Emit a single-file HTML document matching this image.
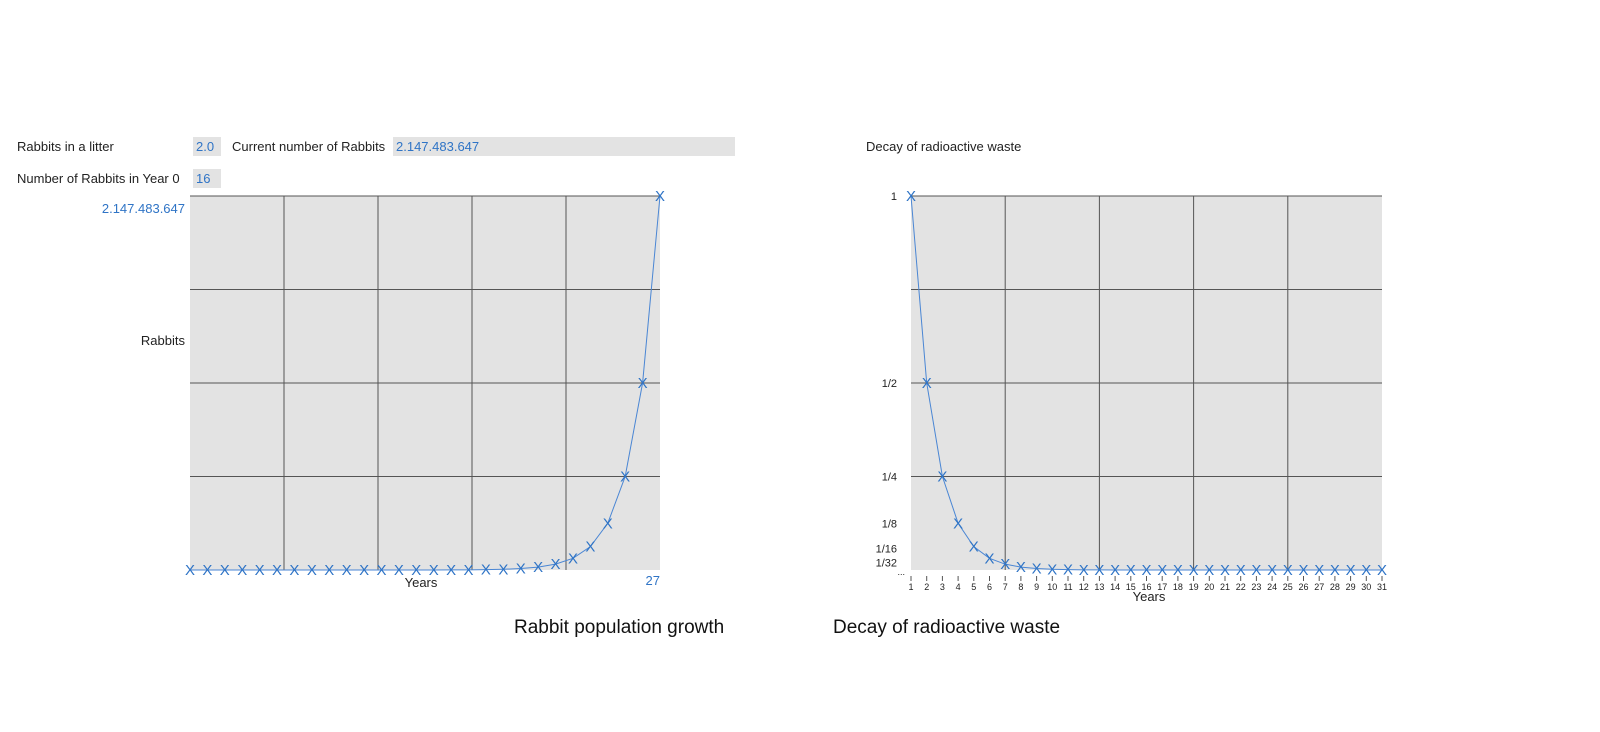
<!DOCTYPE html>
<html><head><meta charset="utf-8"><style>
body{margin:0;background:#fff;width:1600px;height:727px;overflow:hidden;font-family:"Liberation Sans",sans-serif;}
svg text{font-family:"Liberation Sans",sans-serif;}
</style></head><body>
<svg width="1600" height="727">
<g font-size="13">
<text x="17" y="151" fill="#222">Rabbits in a litter</text>
<rect x="193" y="137" width="28" height="19" fill="#e3e3e3"/>
<text x="196" y="151" fill="#2f74c6">2.0</text>
<text x="232" y="151" fill="#222">Current number of Rabbits</text>
<rect x="393" y="137" width="342" height="19" fill="#e3e3e3"/>
<text x="396" y="151" fill="#2f74c6">2.147.483.647</text>
<text x="17" y="183" fill="#222">Number of Rabbits in Year 0</text>
<rect x="193" y="169" width="28" height="19" fill="#e3e3e3"/>
<text x="196" y="183" fill="#2f74c6">16</text>
</g>
<g id="left"></g>
<g id="right"></g>
<text x="514" y="633" font-size="19" fill="#111">Rabbit population growth</text>
<text x="833" y="633" font-size="19" fill="#111">Decay of radioactive waste</text>
</svg>
<script>
const rabbitYears=[0,1,2,3,4,5,6,7,8,9,10,11,12,13,14,15,16,17,18,19,20,21,22,23,24,25,26,27];
const rabbitValues=[16,32,64,128,256,512,1024,2048,4096,8192,16384,32768,65536,131072,262144,524288,1048576,2097152,4194304,8388608,16777216,33554432,67108864,134217728,268435456,536870912,1073741824,2147483647];
const decayYears=[1,2,3,4,5,6,7,8,9,10,11,12,13,14,15,16,17,18,19,20,21,22,23,24,25,26,27,28,29,30,31];
const decayValues=[1,0.5,0.25,0.125,0.0625,0.03125,0.015625,0.0078125,0.00390625,0.001953125,0.0009765625,0.00048828125,0.000244140625,0.0001220703125,0.00006103515625,0.000030517578125,0.0000152587890625,0.00000762939453125,0.000003814697265625,0.0000019073486328125,0.00000095367431640625,0.000000476837158203125,0.0000002384185791015625,0.00000011920928955078125,0.000000059604644775390625,0.0000000298023223876953125,0.00000001490116119384765625,0.000000007450580596923828125,0.0000000037252902984619140625,0.00000000186264514923095703125,0.000000000931322574615478515625];
const decayTickLabels=["1","1/2","1/4","1/8","1/16","1/32"];
const decayTickValues=[1,0.5,0.25,0.125,0.0625,0.03125];
const NS="http://www.w3.org/2000/svg";
function mk(p,t,a){const e=document.createElementNS(NS,t);for(const k in a)e.setAttribute(k,a[k]);p.appendChild(e);return e;}
function chart(g,x0,x1,y0,y1,xs,ys,xmin,xmax,ymax){
  const X=v=>x0+(v-xmin)/(xmax-xmin)*(x1-x0);
  const Y=v=>y1-v/ymax*(y1-y0);
  const bg=mk(g,'rect',{x:x0,y:y0,width:x1-x0,height:y1-y0,fill:'#e3e3e3'});
  
  
  for(let i=1;i<5;i++){
    const gx=x0+(x1-x0)*i/5;
    const l=mk(g,'line',{x1:gx,x2:gx,y1:y0,y2:y1,stroke:'#555','stroke-width':1});
    
    
  }
  for(let i=0;i<4;i++){
    const gy=y0+(y1-y0)*i/4;
    const l=mk(g,'line',{x1:x0,x2:x1,y1:gy,y2:gy,stroke:'#555','stroke-width':1});
    
    
  }
  const pts=xs.map((v,i)=>X(v)+','+Y(ys[i])).join(' ');
  const pl=mk(g,'polyline',{points:pts,fill:'none',stroke:'#4a86d4','stroke-width':1});
  
  
  xs.forEach((v,i)=>{
    const t=mk(g,'text',{x:X(v),y:Y(ys[i])+5,'text-anchor':'middle','font-size':15,fill:'#2f74c6'});
    t.textContent='X';
    
    
  });
  return {X,Y};
}
const L=document.getElementById('left');
chart(L,190,660,196,570,rabbitYears,rabbitValues,0,27,2147483647);
[[185,213,'2.147.483.647','end','#2f74c6','y-max-label'],[185,345,'Rabbits','end','#222','y-axis-title'],[421,587,'Years','middle','#222','x-axis-title'],[660,585,'27','end','#2f74c6','x-max-label']].forEach(a=>{
  const t=mk(L,'text',{x:a[0],y:a[1],'text-anchor':a[3],'font-size':13,fill:a[4]});t.textContent=a[2];
  
  
});
const R=document.getElementById('right');
const r=chart(R,911,1382,196,570,decayYears,decayValues,1,31,1);
decayTickValues.forEach((v,i)=>{
  const nudge=i===4?2:(i===5?4:0);
  const t=mk(R,'text',{x:897,y:r.Y(v)+4+nudge,'text-anchor':'end','font-size':11,fill:'#222'});
  t.textContent=decayTickLabels[i];
  
  
});
decayYears.forEach(v=>{
  const l=mk(R,'line',{x1:r.X(v),x2:r.X(v),y1:576,y2:581,stroke:'#555'});
  
  
  const t=mk(R,'text',{x:r.X(v),y:590,'text-anchor':'middle','font-size':9,fill:'#222'});
  t.textContent=v;
  
  
});
[[866,151,'Decay of radioactive waste','start',13,'chart-title'],[1149,601,'Years','middle',13,'x-axis-title'],[905,575,'...','end',9,'y-ellipsis']].forEach(a=>{
  const t=mk(R,'text',{x:a[0],y:a[1],'text-anchor':a[3],'font-size':a[4],fill:'#222'});t.textContent=a[2];
  
  
});
</script>
</body></html>
